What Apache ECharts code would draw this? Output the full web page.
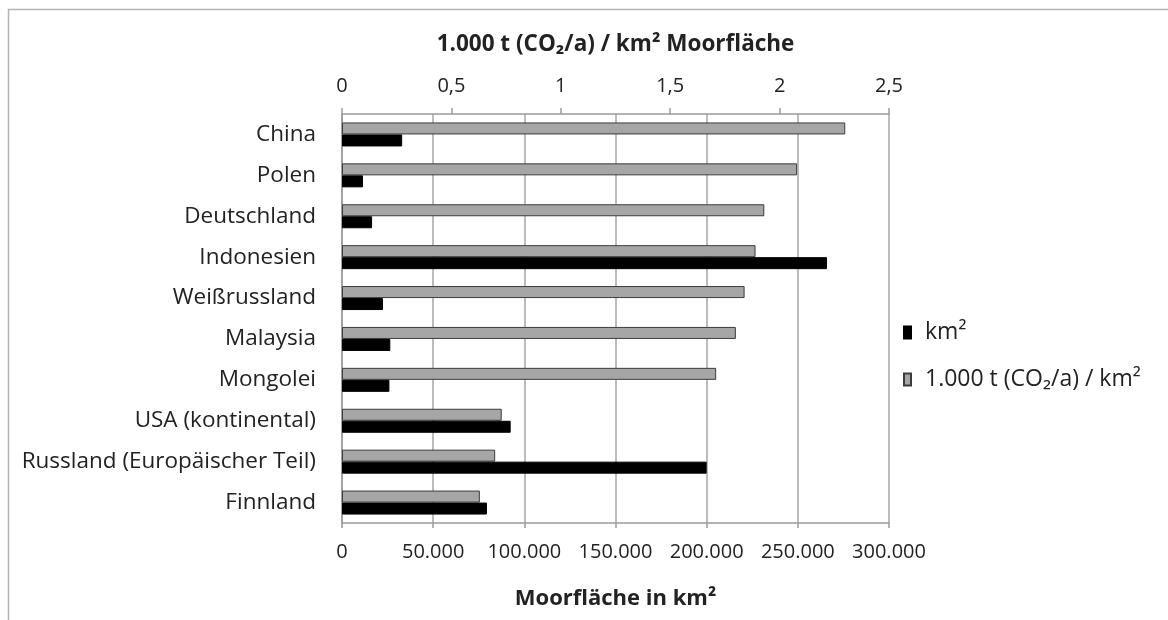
<!DOCTYPE html>
<html>
<head>
<meta charset="utf-8">
<script src="https://cdn.jsdelivr.net/npm/echarts@6/dist/echarts.min.js"></script>
<style>html,body{margin:0;padding:0;background:#fff;}#c{width:1168px;height:620px;}</style>
</head>
<body>
<div id="c"></div>
<script>
const categories = ['China', 'Polen', 'Deutschland', 'Indonesien', 'Weißrussland', 'Malaysia', 'Mongolei', 'USA (kontinental)', 'Russland (Europäischer Teil)', 'Finnland'];
const areaKm2 = [33000, 11500, 16500, 266000, 22500, 26500, 26000, 92500, 200000, 79500];
const co2PerKm2 = [2.30, 2.08, 1.93, 1.89, 1.84, 1.80, 1.71, 0.73, 0.70, 0.63];
const areaTicks = { min: 0, max: 300000, interval: 50000 };
const co2Ticks = { min: 0, max: 2.5, interval: 0.5 };
const seriesNames = ['km²', '1.000 t (CO₂/a) / km²'];

const FONT = '"Open Sans"';
const TXT = '#222';
const chart = echarts.init(document.getElementById('c'), null, { renderer: 'canvas' });

function deThousands(v) {
  return String(v).replace(/\B(?=(\d{3})+(?!\d))/g, '.');
}

chart.setOption({
  animation: false,
  backgroundColor: '#fff',
  textStyle: { fontFamily: FONT, color: TXT },
  graphic: [{
    type: 'rect',
    shape: { x: 8.5, y: 9.5, width: 1400, height: 800 },
    style: { fill: 'none', stroke: '#b4b4b4', lineWidth: 1.5 },
    silent: true
  }],
  grid: { left: 342, right: 279, top: 114, bottom: 97, containLabel: false },
  legend: {
    orient: 'vertical',
    left: 898,
    top: 316,
    itemWidth: 7,
    itemHeight: 12,
    itemGap: 24,
    icon: 'rect',
    data: seriesNames,
    textStyle: { fontFamily: FONT, fontSize: 23, color: TXT, padding: [0, 0, 0, 9] }
  },
  xAxis: [{
    type: 'value',
    position: 'bottom',
    min: areaTicks.min, max: areaTicks.max, interval: areaTicks.interval,
    name: 'Moorfläche in km²',
    nameLocation: 'middle',
    nameGap: 65,
    nameTextStyle: { fontFamily: FONT, fontSize: 22, fontWeight: 'bold', color: TXT },
    axisLine: { show: true, lineStyle: { color: '#9a9a9a', width: 1.5 } },
    axisTick: { show: true, length: 5, lineStyle: { color: '#9a9a9a', width: 1.5 } },
    axisLabel: { fontFamily: FONT, fontSize: 20, color: TXT, margin: 19, formatter: deThousands },
    splitLine: { show: true, lineStyle: { color: '#a6a6a6', width: 1.5 } }
  }, {
    type: 'value',
    position: 'top',
    min: co2Ticks.min, max: co2Ticks.max, interval: co2Ticks.interval,
    name: '1.000 t (CO₂/a) / km² Moorfläche',
    nameLocation: 'middle',
    nameGap: 58,
    nameTextStyle: { fontFamily: FONT, fontSize: 22.5, fontWeight: 'bold', color: TXT },
    axisLine: { show: true, lineStyle: { color: '#9a9a9a', width: 1.5 } },
    axisTick: { show: true, length: 6, lineStyle: { color: '#9a9a9a', width: 1.5 } },
    axisLabel: { fontFamily: FONT, fontSize: 20, color: TXT, margin: 18, formatter: v => String(v).replace('.', ',') },
    splitLine: { show: false }
  }],
  yAxis: {
    type: 'category',
    data: categories,
    inverse: true,
    axisLine: { show: true, lineStyle: { color: '#9a9a9a', width: 1.5 } },
    axisTick: { show: false },
    axisLabel: { fontFamily: FONT, fontSize: 22.5, color: TXT, margin: 26 },
    splitLine: { show: false }
  },
  series: [{
    name: seriesNames[1],
    type: 'bar',
    xAxisIndex: 1,
    data: co2PerKm2,
    barWidth: 12,
    barGap: '0%',
    itemStyle: { color: '#a6a6a6', borderColor: '#3c3c3c', borderWidth: 1 }
  }, {
    name: seriesNames[0],
    type: 'bar',
    xAxisIndex: 0,
    data: areaKm2,
    barWidth: 12,
    barGap: '0%',
    itemStyle: { color: '#000', borderColor: '#000', borderWidth: 1 }
  }]
});
</script>
</body>
</html>
